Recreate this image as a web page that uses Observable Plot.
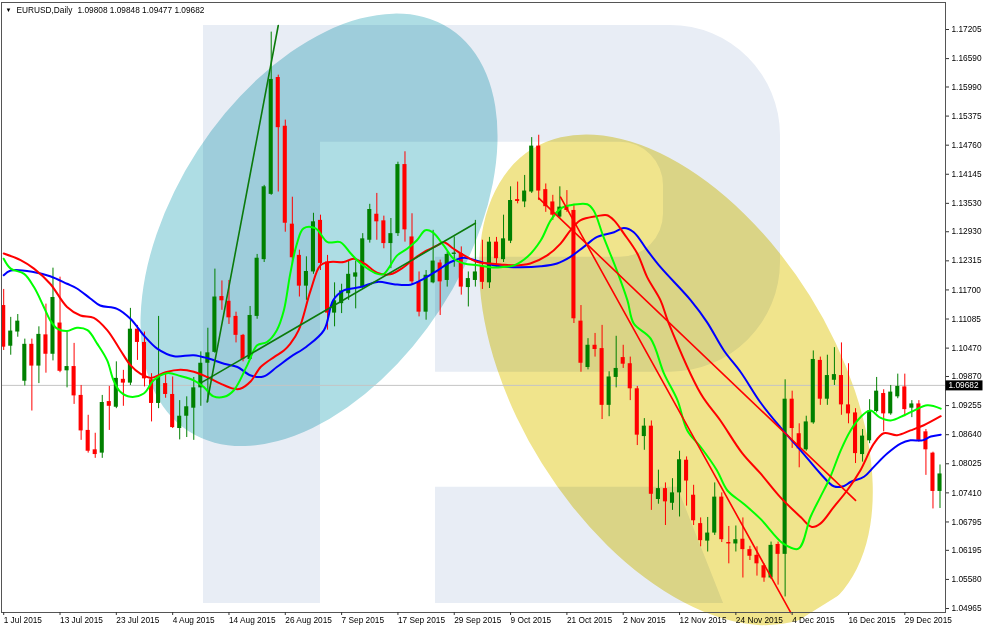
<!DOCTYPE html>
<html><head><meta charset="utf-8">
<script src="https://cdn.jsdelivr.net/npm/d3@7"></script>
<script src="https://cdn.jsdelivr.net/npm/@observablehq/plot@0.6"></script>
<style>
html,body{margin:0;padding:0;background:#fff;}
#chart svg{display:block;}
</style></head><body><div id="chart"></div>
<script>
// ---- Data ----
const symbolTitle = "EURUSD,Daily";
const headerValues = "1.09808 1.09848 1.09477 1.09682";
const lastPrice = 1.09682;

const opens = [1.1137,1.1051,1.1081,1.0977,1.1055,1.1009,1.1075,1.1034,1.1100,1.0999,1.1008,1.0947,1.0873,1.0832,1.0825,1.0934,1.0922,1.0981,1.0973,1.1087,1.1059,1.0980,1.0930,1.0972,1.0949,1.0877,1.0903,1.0920,1.0963,1.1015,1.1038,1.1156,1.1146,1.1114,1.1074,1.1023,1.1114,1.1234,1.1372,1.1619,1.1516,1.1309,1.1243,1.1178,1.1208,1.1317,1.1229,1.1121,1.1141,1.1162,1.1197,1.1176,1.1275,1.1330,1.1316,1.1268,1.1289,1.1435,1.1282,1.1187,1.1123,1.1185,1.1227,1.1190,1.1245,1.1247,1.1175,1.1190,1.1220,1.1185,1.1271,1.1234,1.1273,1.1361,1.1356,1.1377,1.1474,1.1382,1.1356,1.1324,1.1345,1.1338,1.1104,1.1006,1.1053,1.1046,1.0926,1.0985,1.1027,1.1014,1.0961,1.0860,1.0882,1.0727,1.0750,1.0719,1.0741,1.0810,1.0736,1.0676,1.0639,1.0656,1.0732,1.0636,1.0633,1.0643,1.0621,1.0609,1.0587,1.0561,1.0632,1.0611,1.0939,1.0866,1.0832,1.0889,1.1021,1.0939,1.0979,1.0989,1.0927,1.0910,1.0822,1.0851,1.0913,1.0951,1.0908,1.0944,1.0965,1.0920,1.0929,1.0870,1.0825,1.0744];
const highs = [1.1171,1.1112,1.1118,1.1066,1.1066,1.1092,1.1140,1.1216,1.1197,1.1081,1.1057,1.0968,1.0905,1.0867,1.0947,1.0966,1.1018,1.1000,1.1131,1.1095,1.1081,1.0993,1.1114,1.0994,1.0986,1.0936,1.0944,1.0985,1.1039,1.1089,1.1214,1.1189,1.1190,1.1123,1.1076,1.1135,1.1245,1.1391,1.1715,1.1624,1.1529,1.1366,1.1254,1.1240,1.1332,1.1328,1.1243,1.1185,1.1182,1.1231,1.1231,1.1289,1.1351,1.1374,1.1326,1.1321,1.1440,1.1462,1.1331,1.1208,1.1211,1.1296,1.1233,1.1250,1.1282,1.1261,1.1208,1.1317,1.1275,1.1281,1.1281,1.1328,1.1388,1.1398,1.1412,1.1492,1.1497,1.1394,1.1370,1.1388,1.1380,1.1351,1.1137,1.1067,1.1078,1.1095,1.0997,1.1072,1.1053,1.1028,1.0966,1.0898,1.0893,1.0789,1.0762,1.0771,1.0829,1.0817,1.0757,1.0688,1.0689,1.0762,1.0741,1.0670,1.0671,1.0688,1.0628,1.0627,1.0591,1.0637,1.0637,1.0980,1.0956,1.0887,1.0903,1.1041,1.1028,1.1032,1.1048,1.1058,1.1014,1.0919,1.0875,1.0938,1.0985,1.0959,1.0968,1.0992,1.0992,1.0936,1.0936,1.0875,1.0827,1.0800];
const lows = [1.1042,1.1032,1.1070,1.0967,1.0914,1.0972,1.0994,1.1020,1.0995,1.0963,1.0928,1.0852,1.0825,1.0814,1.0814,1.0873,1.0919,1.0924,1.0968,1.1021,1.0965,1.0891,1.0919,1.0941,1.0877,1.0853,1.0858,1.0852,1.0924,1.0932,1.1036,1.1127,1.1097,1.1058,1.1018,1.1021,1.1108,1.1228,1.1370,1.1377,1.1292,1.1222,1.1155,1.1148,1.1203,1.1211,1.1085,1.1092,1.1120,1.1148,1.1130,1.1171,1.1269,1.1275,1.1257,1.1215,1.1283,1.1271,1.1182,1.1113,1.1106,1.1183,1.1116,1.1176,1.1218,1.1159,1.1134,1.1176,1.1171,1.1173,1.1216,1.1228,1.1268,1.1352,1.1344,1.1374,1.1359,1.1334,1.1317,1.1321,1.1334,1.1099,1.0996,1.1001,1.1028,1.0896,1.0902,1.0963,1.1004,1.0936,1.0841,1.0831,1.0704,1.0717,1.0672,1.0704,1.0690,1.0713,1.0672,1.0627,1.0616,1.0651,1.0636,1.0591,1.0616,1.0561,1.0598,1.0565,1.0552,1.0558,1.0546,1.0521,1.0835,1.0794,1.0829,1.0886,1.0926,1.0926,1.0968,1.0905,1.0887,1.0803,1.0806,1.0845,1.0910,1.0870,1.0905,1.0940,1.0902,1.0900,1.0848,1.0778,1.0707,1.0708];
const closes = [1.1049,1.1083,1.1104,1.1055,1.1009,1.1076,1.1034,1.1154,1.0998,1.1008,1.0946,1.0872,1.0829,1.0822,1.0932,1.0924,1.0983,1.0973,1.1087,1.1059,1.0982,1.0930,1.0985,1.0949,1.0879,1.0903,1.0923,1.0963,1.1015,1.1037,1.1155,1.1147,1.1111,1.1074,1.1023,1.1116,1.1237,1.1388,1.1615,1.1513,1.1311,1.1238,1.1178,1.1209,1.1314,1.1226,1.1121,1.1147,1.1168,1.1203,1.1206,1.1278,1.1340,1.1314,1.1268,1.1289,1.1435,1.1297,1.1187,1.1123,1.1201,1.1231,1.1187,1.1245,1.1248,1.1176,1.1194,1.1208,1.1186,1.1271,1.1236,1.1278,1.1359,1.1357,1.1379,1.1474,1.1379,1.1346,1.1328,1.1345,1.1338,1.1109,1.1015,1.1053,1.1044,1.0926,1.0986,1.1004,1.1013,1.0961,1.0863,1.0882,1.0738,1.0750,1.0722,1.0741,1.0811,1.0766,1.0682,1.0640,1.0656,1.0732,1.0642,1.0633,1.0642,1.0621,1.0607,1.0591,1.0561,1.0630,1.0611,1.0939,1.0877,1.0834,1.0891,1.1023,1.0939,1.0989,1.0991,1.0927,1.0908,1.0824,1.0861,1.0914,1.0956,1.0908,1.0954,1.0966,1.0917,1.0929,1.0852,1.0832,1.0744,1.0781];

// moving averages: [bar index, price]
const maFast = [[0,1.1236],[1,1.1215],[2.9,1.1204],[4.3,1.1176],[5.7,1.1134],[6.6,1.1106],[7.6,1.1088],[9,1.1083],[10.4,1.1090],[11.9,1.1085],[13.3,1.1056],[14.7,1.1021],[15.6,1.0979],[16.6,1.0954],[18,1.0944],[19.9,1.0951],[21.3,1.0979],[23.2,1.0994],[25.1,1.0988],[27,1.0979],[28.4,1.0965],[29.8,1.0945],[31.3,1.0944],[32.7,1.0958],[34.6,1.1011],[36,1.1053],[37.4,1.1060],[38.8,1.1085],[39.8,1.1127],[40.7,1.1204],[41.6,1.1265],[42.6,1.1300],[44.3,1.1300],[46,1.1271],[47.8,1.1271],[49.3,1.1247],[50.7,1.1226],[53.1,1.1204],[54,1.1204],[55.9,1.1243],[57.3,1.1257],[58.7,1.1275],[59.9,1.1296],[60.9,1.1292],[62.5,1.1264],[63.9,1.1236],[65.4,1.1226],[67.3,1.1222],[69.1,1.1218],[70.6,1.1218],[72.5,1.1222],[74.4,1.1240],[76.3,1.1275],[77.7,1.1317],[79.1,1.1342],[80.5,1.1349],[82.9,1.1351],[83.8,1.1338],[85.2,1.1282],[87.1,1.1211],[88.6,1.1148],[89.5,1.1099],[91.9,1.1067],[93.8,1.0993],[95.7,1.0937],[97.1,1.0873],[99,1.0838],[101.3,1.0789],[102.8,1.0746],[105.1,1.0718],[107.5,1.0686],[110.8,1.0633],[112.9,1.0623],[114.6,1.0690],[116,1.0732],[117.4,1.0774],[118.9,1.0831],[120.3,1.0873],[121.7,1.0901],[123.1,1.0915],[124.5,1.0900],[126,1.0894],[127.9,1.0905],[129.3,1.0915],[131.2,1.0926],[133.1,1.0919]];
const maMid = [[0,1.1247],[2.4,1.1233],[4.3,1.1215],[6.6,1.1183],[9,1.1134],[10.9,1.1116],[12.8,1.1111],[14.7,1.1085],[16.6,1.1042],[18,1.1011],[19.4,1.0993],[20.9,1.0984],[23,1.0996],[25.1,1.1001],[27,1.0997],[28.9,1.0986],[30.8,1.0972],[32.7,1.0961],[33.6,1.0961],[35.1,1.0977],[36.5,1.1007],[38.4,1.1028],[39.8,1.1042],[40.7,1.1056],[41.9,1.1085],[43.6,1.1169],[45,1.1222],[46.4,1.1229],[48.3,1.1229],[49.7,1.1236],[51.2,1.1226],[53.1,1.1206],[54.9,1.1203],[56.8,1.1218],[58.3,1.1236],[59.7,1.1250],[61.6,1.1264],[62.5,1.1271],[63.9,1.1257],[65.4,1.1243],[67.3,1.1229],[69.1,1.1226],[70.6,1.1224],[72.5,1.1222],[74.8,1.1226],[77.2,1.1243],[79.1,1.1268],[80.5,1.1296],[81.9,1.1317],[84.3,1.1326],[85.7,1.1328],[86.7,1.1317],[88.1,1.1289],[90,1.1247],[91.4,1.1197],[93.3,1.1148],[94.4,1.1102],[99,1.0951],[101.8,1.0894],[104.9,1.0825],[107.5,1.0782],[110.3,1.0732],[113.2,1.0690],[114.8,1.0669],[116,1.0676],[117.9,1.0711],[119.8,1.0746],[121.7,1.0789],[123.6,1.0845],[125,1.0867],[126.9,1.0863],[128.8,1.0873],[130.7,1.0884],[133.1,1.0903]];
const maSlow = [[0,1.1201],[1,1.1211],[4.2,1.1208],[6.6,1.1199],[9,1.1183],[10.4,1.1173],[12.3,1.1152],[13.7,1.1137],[16.1,1.1130],[18,1.1109],[19.9,1.1074],[21.8,1.1046],[24.2,1.1030],[27,1.1032],[29.1,1.1025],[31.3,1.1014],[33.2,1.1007],[35.1,1.0989],[36.9,1.0987],[38.8,1.1007],[40.7,1.1028],[43,1.1050],[45.5,1.1085],[46.8,1.1148],[48.3,1.1169],[50.7,1.1176],[53.1,1.1187],[55.4,1.1182],[57.8,1.1181],[59.7,1.1194],[61.6,1.1211],[63.5,1.1229],[65.4,1.1238],[67.3,1.1231],[69.1,1.1224],[70.6,1.1220],[73.4,1.1218],[76.3,1.1220],[78.6,1.1226],[80.5,1.1240],[82.4,1.1261],[84.3,1.1282],[86.7,1.1292],[88.1,1.1301],[89.5,1.1292],[91.4,1.1254],[93.3,1.1218],[97.6,1.1148],[99.9,1.1102],[102.3,1.1042],[104.7,1.0996],[107.5,1.0932],[110.3,1.0880],[113.2,1.0831],[116,1.0782],[117.9,1.0755],[119.3,1.0755],[120.3,1.0764],[122.2,1.0775],[123.6,1.0796],[125.5,1.0824],[127.4,1.0845],[128.8,1.0852],[130.5,1.0852],[131.7,1.0860],[133.1,1.0864]];

// trend lines: [startIndex, startPrice, endIndex, endPrice]
const greenTrends = [[28.9,1.0933,39.0,1.1729],[28.2,1.0975,67.0,1.1311]];
const redTrends = [[79.1,1.1366,111.8,1.0488],[76.0,1.1364,121.0,1.0725]];

// ellipse centres [bar index, price]
const cyanCentre = [44.86, 1.1296];
const yellowCentre = [95.57, 1.0979];

// watermark logo anchors (bar index / price)
const wmXs = [28.38, 45.0, 61.34, 93.72, 95.72, 102.25, 110.34];
const wmYs = [1.1729, 1.1482, 1.1239, 1.0996, 1.0753, 1.0507];

const tickIdx = [0,8,16,24,32,40,48,56,64,72,80,88,96,104,112,120,128];
const tickLabels = ["1 Jul 2015","13 Jul 2015","23 Jul 2015","4 Aug 2015","14 Aug 2015","26 Aug 2015","7 Sep 2015","17 Sep 2015","29 Sep 2015","9 Oct 2015","21 Oct 2015","2 Nov 2015","12 Nov 2015","24 Nov 2015","4 Dec 2015","16 Dec 2015","29 Dec 2015"];
const yTicks = [1.17205,1.16590,1.15990,1.15375,1.14760,1.14145,1.13530,1.12930,1.12315,1.11700,1.11085,1.10470,1.09870,1.09255,1.08640,1.08025,1.07410,1.06795,1.06195,1.05580,1.04965];

// ---- build ----
const bars = opens.map((o, i) => ({i, open: o, high: highs[i], low: lows[i], close: closes[i], up: closes[i] >= o}));
const UP = "#008000", DN = "#ff0000";
let clipCount = 0;

function ellipseMark(c, rx, ry, angle, fill) {
  return (index, scales, values, dims) => {
    const cx = scales.x(c[0]), cy = scales.y(c[1]);
    const g = d3.create("svg:g");
    const id = "elclip" + (clipCount++);
    g.append("clipPath").attr("id", id).append("rect")
      .attr("x", dims.marginLeft).attr("y", dims.marginTop)
      .attr("width", dims.width - dims.marginLeft - dims.marginRight)
      .attr("height", dims.height - dims.marginBottom - dims.marginTop - 4);
    g.append("ellipse").attr("clip-path", `url(#${id})`)
      .attr("cx", cx).attr("cy", cy).attr("rx", rx).attr("ry", ry)
      .attr("transform", `rotate(${angle} ${cx} ${cy})`)
      .attr("fill", fill);
    return g.node();
  };
}

function watermarkMark(index, scales) {
  const X = wmXs.map(scales.x), Y = wmYs.map(scales.y);
  const [L, S, B, H, LG, LF, R] = X;
  const [T, HT, HB, BB, LT, BS] = Y;
  const r1 = 110, r2 = 43;
  const p = d3.path();
  p.moveTo(L, T); p.lineTo(R - r1, T);
  p.arcTo(R, T, R, T + r1, r1);
  p.lineTo(R, BB - r1);
  p.arcTo(R, BB, R - r1, BB, r1);
  p.lineTo(B, BB); p.lineTo(B, HB); p.lineTo(H - r2, HB);
  p.arcTo(H, HB, H, HB - r2, r2);
  p.lineTo(H, HT + r2);
  p.arcTo(H, HT, H - r2, HT, r2);
  p.lineTo(S, HT); p.lineTo(S, BS); p.lineTo(L, BS); p.closePath();
  p.moveTo(B, LT); p.lineTo(LG, LT); p.lineTo(LF, BS); p.lineTo(B, BS); p.closePath();
  const g = d3.create("svg:g").style("mix-blend-mode", "multiply");
  g.append("path").attr("d", p.toString()).attr("fill", "#e8edf5");
  return g.node();
}

function priceTag(index, scales, values, dims) {
  const y0 = scales.y(lastPrice);
  const x0 = dims.width - dims.marginRight + 0.5;
  const g = d3.create("svg:g");
  g.append("rect").attr("x", x0).attr("y", y0 - 4.5).attr("width", 37).attr("height", 10).attr("fill", "#000");
  g.append("text").attr("x", x0 + 3).attr("y", y0 + 3.2).attr("fill", "#fff")
    .attr("text-anchor", "start").attr("font-size", "8.3px").text(lastPrice.toFixed(5));
  return g.node();
}

const seg = (arr) => arr.flatMap((t, k) => [{k, i: t[0], p: t[1]}, {k, i: t[2], p: t[3]}]);

const chart = Plot.plot({
  width: 985, height: 630,
  marginLeft: 1, marginRight: 40, marginTop: 2, marginBottom: 18,
  x: {type: "linear", domain: [-0.3125, 133.78]},
  y: {domain: [1.04881, 1.17776]},
  color: {type: "identity"},
  style: {fontFamily: "'Liberation Sans', Arial, sans-serif", fontSize: "8.3px", color: "#000", background: "#fff", overflow: "visible"},
  marks: [
    ellipseMark(yellowCentre, 272, 158, 58, "#f0e48c"),
    ellipseMark(cyanCentre, 240, 145, -57, "#aedde4"),
    watermarkMark,
    Plot.ruleY([lastPrice], {stroke: "#c4c4c4", strokeWidth: 1}),
    Plot.ruleX(bars, {x: "i", y1: "low", y2: "high", stroke: d => d.up ? UP : DN, strokeWidth: 1}),
    Plot.rect(bars, {x1: d => d.i - 0.29, x2: d => d.i + 0.29, y1: "open", y2: "close", fill: d => d.up ? UP : DN}),
    Plot.line(maSlow, {x: d => d[0], y: d => d[1], stroke: "#0000ff", strokeWidth: 2, curve: "catmull-rom"}),
    Plot.line(maMid, {x: d => d[0], y: d => d[1], stroke: "#ff0000", strokeWidth: 2, curve: "catmull-rom"}),
    Plot.line(maFast, {x: d => d[0], y: d => d[1], stroke: "#00ff00", strokeWidth: 2, curve: "catmull-rom"}),
    Plot.line(seg(greenTrends), {x: "i", y: "p", z: "k", stroke: "#0b7a0b", strokeWidth: 1.6}),
    Plot.line(seg(redTrends), {x: "i", y: "p", z: "k", stroke: "#ff0000", strokeWidth: 1.6}),
    Plot.frame({stroke: "#555"}),
    Plot.axisX({ticks: tickIdx, tickFormat: d => tickLabels[tickIdx.indexOf(d)], textAnchor: "start", tickSize: 3, tickPadding: 2, label: null, stroke: "#333"}),
    Plot.axisY({anchor: "right", ticks: yTicks, tickFormat: d => d.toFixed(5), tickSize: 3, tickPadding: 3, label: null, stroke: "#333"}),
    Plot.text(["\u25BC"], {frameAnchor: "top-left", dx: 4, dy: 8, lineAnchor: "middle", textAnchor: "start", fontSize: 6}),
    Plot.text([symbolTitle], {frameAnchor: "top-left", dx: 15, dy: 8, lineAnchor: "middle", textAnchor: "start"}),
    Plot.text([headerValues], {frameAnchor: "top-left", dx: 76, dy: 8, lineAnchor: "middle", textAnchor: "start"}),
    priceTag
  ]
});
document.getElementById("chart").appendChild(chart);
</script>
</body></html>
